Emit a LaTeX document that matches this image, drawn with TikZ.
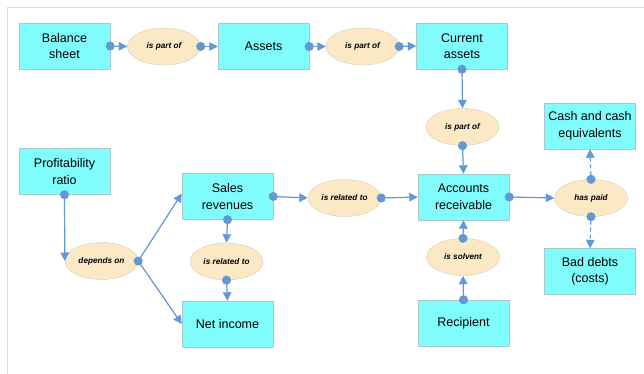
\documentclass[tikz,border=0pt]{standalone}
\usepackage{fontspec}
\setmainfont{Liberation Sans}
\usetikzlibrary{arrows.meta,shapes.geometric}
\definecolor{boxfill}{RGB}{128,252,252}
\definecolor{boxline}{RGB}{170,200,205}
\definecolor{ellfill}{RGB}{251,233,197}
\definecolor{ellline}{RGB}{215,205,180}
\definecolor{conn}{RGB}{98,152,212}
\definecolor{frame}{RGB}{200,225,240}
\tikzset{
  box/.style={draw=boxline, fill=boxfill, minimum width=91pt, minimum height=46pt, inner sep=0pt,
    align=center, font=\fontsize{12.5}{16.5}\selectfont},
  rel/.style={ellipse, draw=ellline, fill=ellfill, minimum width=73pt, minimum height=37pt, inner sep=0pt,
    font=\fontsize{8.2}{10}\selectfont\bfseries\itshape},
  link/.style={draw=conn, line width=1.2pt, shorten <=-4.5pt,
    {Circle[length=9pt,width=9pt,fill=conn]}-{Triangle[length=8.5pt,width=8.5pt,fill=conn]}},
  dlink/.style={link, dashed, dash pattern=on 4pt off 3pt}
}
\begin{document}
\begin{tikzpicture}[x=1pt,y=-1pt]
\useasboundingbox (0,0) rectangle (644,374);
\fill[white] (0,0) rectangle (644,374);
\draw[frame, line width=0.8pt] (7,374) -- (7,7) -- (644,7);

\node[box] (bs) at (64.5,46) {Balance\\sheet};
\node[rel] (p1) at (164,46.5) {is part of};
\node[box] (as) at (263.5,46.5) {Assets};
\node[rel] (p2) at (362.5,46.5) {is part of};
\node[box] (ca) at (462,46) {Current\\assets};
\node[rel] (p3) at (462.5,127) {is part of};
\node[box] (cash) at (590,126) {Cash and cash\\equivalents};
\node[box] (pr) at (64.5,171.5) {Profitability\\ratio};
\node[box] (sr) at (227.5,196.5) {Sales\\revenues};
\node[rel] (dep) at (101.5,261) {depends on};
\node[rel] (rl) at (226.5,261.5) {is related to};
\node[box] (ni) at (227.5,324) {Net income};
\node[rel] (rm) at (344.5,198) {is related to};
\node[box] (ar) at (463.5,197) {Accounts\\receivable};
\node[rel] (hp) at (591,198) {has paid};
\node[rel] (sv) at (463,257) {is solvent};
\node[box] (rc) at (463.5,323) {Recipient};
\node[box] (bd) at (590,271.5) {Bad debts\\(costs)};

\draw[link] (bs.east) -- (p1.west);
\draw[link] (p1.east) -- (as.west);
\draw[link] (as.east) -- (p2.west);
\draw[link] (p2.east) -- (ca.west);
\draw[link] (ca.south) -- (p3.north);
\draw[link] (p3.south) -- (ar.north);
\draw[link] (pr.south) -- (dep.west);
\draw[link] (dep.east) -- ([yshift=3pt]sr.west);
\draw[draw=conn, line width=1.2pt, -{Triangle[length=8.5pt,width=8.5pt,fill=conn]}] (dep.east) -- (ni.west);
\draw[link] (sr.south) -- (rl.north);
\draw[link] (rl.south) -- (ni.north);
\draw[link] (sr.east) -- (rm.west);
\draw[link] (rm.east) -- (ar.west);
\draw[link] (ar.east) -- (hp.west);
\draw[dlink] (hp.north) -- (cash.south);
\draw[dlink] (hp.south) -- (bd.north);
\draw[link] (rc.north) -- (sv.south);
\draw[link] (sv.north) -- (ar.south);
\end{tikzpicture}
\end{document}
